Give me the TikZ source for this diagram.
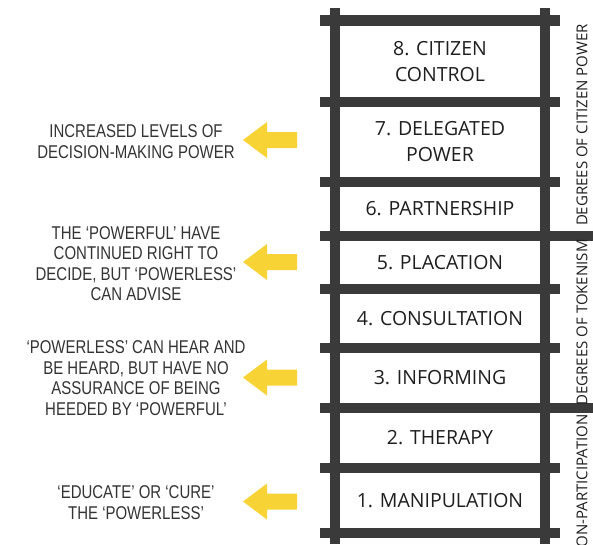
\documentclass[tikz,border=0pt]{standalone}
\usepackage{fontspec}
\setmainfont{Open Sans}
\newfontfamily\annfont[FakeStretch=0.81]{Liberation Sans}
\definecolor{railc}{HTML}{3A3A3A}
\definecolor{arrowy}{HTML}{F8D336}
\definecolor{annc}{HTML}{333333}
\definecolor{rungc}{HTML}{1E1E1E}
\tikzset{
  railpart/.style={fill=railc, draw=none},
  rungtext/.style={font=\fontsize{19.5}{26}\selectfont, text=rungc, align=center, inner sep=0pt},
  sidelabel/.style={font=\fontsize{15}{16}\selectfont, text=rungc, rotate=90, inner sep=0pt},
  anntext/.style={font=\annfont\fontsize{18.5}{20.5}\selectfont, text=annc, align=center, inner sep=0pt},
  yarr/.pic={\fill[arrowy] (0,0) -- (24,-18) -- (24,-8) -- (54,-8) -- (54,8) -- (24,8) -- (24,18) -- cycle;}
}
\begin{document}
\begin{tikzpicture}[x=1pt,y=-1pt]
\useasboundingbox (0,0) rectangle (593,544);
\clip (0,0) rectangle (593,544);
% rails
\fill[railpart] (330,8) rectangle (340,544);
\fill[railpart] (540,8) rectangle (550,544);
% rungs
\foreach \yc in {20.5,102,182,289,348,468,533} {
  \fill[railpart] (320,\yc-5.25) rectangle (560,\yc+5.25);
}
% section dividers
\foreach \yc in {236,408} {
  \fill[railpart] (320,\yc-5.25) rectangle (593,\yc+5.25);
}
% rung labels
\node[rungtext] (r8) at (440,61.5) {8. CITIZEN\\CONTROL};
\node[rungtext] (r7) at (440,142) {7. DELEGATED\\POWER};
\node[rungtext] (r6) at (440,209) {6. PARTNERSHIP};
\node[rungtext] (r5) at (440,262.5) {5. PLACATION};
\node[rungtext] (r4) at (440,318.5) {4. CONSULTATION};
\node[rungtext] (r3) at (440,378) {3. INFORMING};
\node[rungtext] (r2) at (440,438) {2. THERAPY};
\node[rungtext] (r1) at (440,500.5) {1. MANIPULATION};
% side labels
\node[sidelabel] (s3) at (582,125) {DEGREES OF CITIZEN POWER};
\node[sidelabel] (s2) at (582,322.5) {DEGREES OF TOKENISM};
\node[sidelabel, anchor=east] (s1) at (582,414) {NON-PARTICIPATION};
% arrows
\pic at (243,140) {yarr};
\pic at (243,262) {yarr};
\pic at (243,377.5) {yarr};
\pic at (243,501.5) {yarr};
% annotations
\node[anntext] (a4) at (136,141.5) {INCREASED LEVELS OF\\DECISION-MAKING POWER};
\node[anntext] (a3) at (136,263.5) {THE ‘POWERFUL’ HAVE\\CONTINUED RIGHT TO\\DECIDE, BUT ‘POWERLESS’\\CAN ADVISE};
\node[anntext] (a2) at (136,378) {‘POWERLESS’ CAN HEAR AND\\BE HEARD, BUT HAVE NO\\ASSURANCE OF BEING\\HEEDED BY ‘POWERFUL’};
\node[anntext] (a1) at (136,502.5) {‘EDUCATE’ OR ‘CURE’\\THE ‘POWERLESS’};
\end{tikzpicture}
\end{document}
